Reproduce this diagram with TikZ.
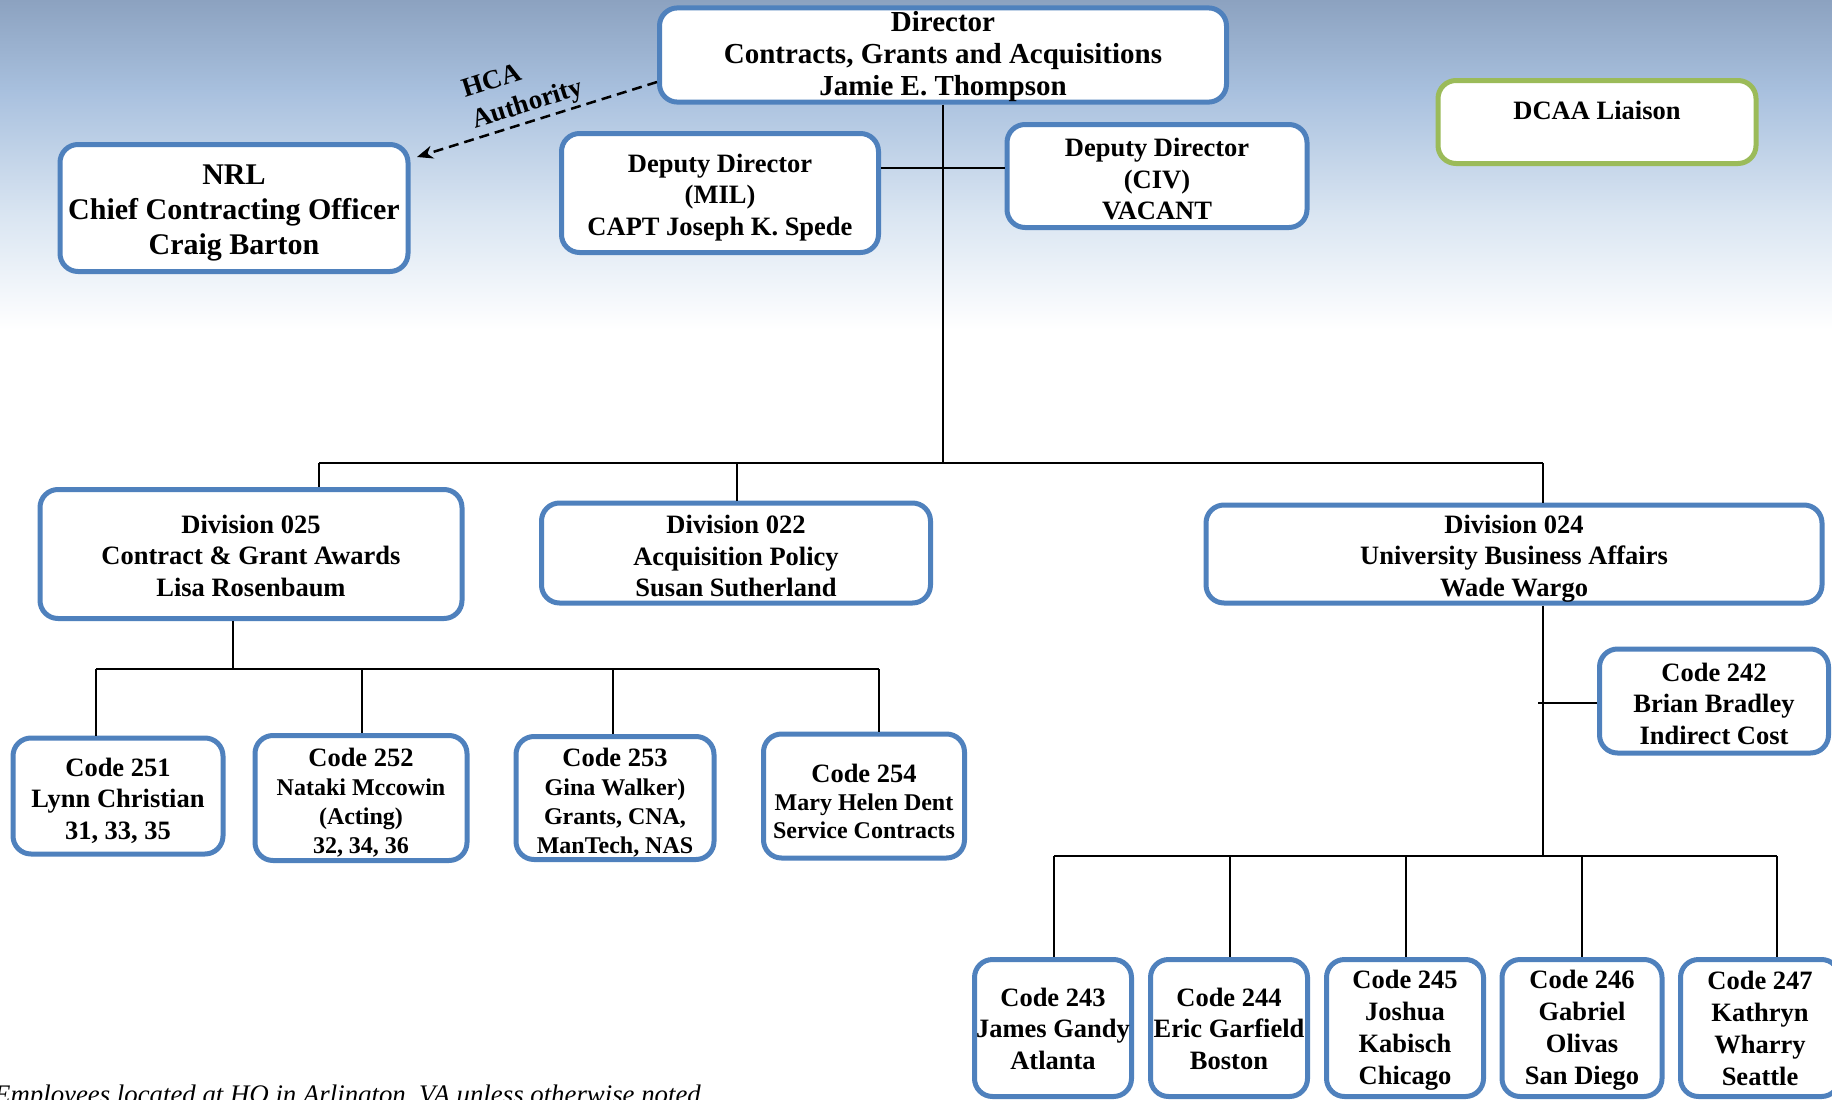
\documentclass[tikz,border=0pt]{standalone}
\usepackage{fontspec}
\setmainfont{Liberation Serif}
\usetikzlibrary{arrows.meta}
\definecolor{boxblue}{RGB}{79,129,189}
\definecolor{boxgreen}{RGB}{155,187,89}
\definecolor{skya}{RGB}{140,162,192}
\definecolor{skyb}{RGB}{168,192,222}
\definecolor{skyc}{RGB}{216,228,241}
\newcommand\mytop[1]{\rule{0pt}{#1pt}}
\tikzset{
  box/.style={draw=boxblue, line width=5pt, rounded corners=18pt, fill=white,
    align=center, inner sep=0pt},
  greenbox/.style={draw=boxgreen, line width=5pt, rounded corners=18pt, fill=white, inner sep=0pt},
  fbig/.style={font=\bfseries\fontsize{29}{32}\selectfont},
  fnrl/.style={font=\bfseries\fontsize{30}{35}\selectfont},
  fmid/.style={font=\bfseries\fontsize{26.5}{31.5}\selectfont},
  fsmall/.style={font=\bfseries\fontsize{24}{29}\selectfont},
  conn/.style={draw=black, line width=2pt},
}
\begin{document}
\begin{tikzpicture}[x=1pt,y=-1pt]
\useasboundingbox (0,0) rectangle (1832,1100);
% background sky
\fill[white] (0,0) rectangle (1832,1100);
\shade[top color=skya, bottom color=skyb] (0,0) rectangle (1832,91);
\shade[top color=skyb, bottom color=skyc] (0,90) rectangle (1832,211);
\shade[top color=skyc, bottom color=white] (0,210) rectangle (1832,330);

% top level
\node[box, fbig, minimum width=567pt, minimum height=86pt] (dir) at (943,55)
  {\mytop{24}Director\\Contracts, Grants and Acquisitions\\Jamie E. Thompson};
\node[box, fnrl, minimum width=348pt, minimum height=127pt] (nrl) at (234,208)
  {\mytop{29}NRL\\Chief Contracting Officer\\Craig Barton};
\node[box, fmid, minimum width=317pt, minimum height=119pt] (mil) at (720,193)
  {\mytop{27}Deputy Director\\(MIL)\\CAPT Joseph K. Spede};
\node[box, fmid, minimum width=300pt, minimum height=103pt] (civ) at (1157,176)
  {\mytop{24.5}Deputy Director\\(CIV)\\VACANT};
\node[greenbox, minimum width=318pt, minimum height=83pt] (dcaa) at (1597,122) {};
\node[fmid, inner sep=0pt] (dcaat) at (1597,110) {DCAA Liaison};

% divisions
\node[box, fmid, minimum width=422pt, minimum height=129pt] (d025) at (251,554)
  {\mytop{22}Division 025\\Contract \& Grant Awards\\Lisa Rosenbaum};
\node[box, fmid, minimum width=389pt, minimum height=100pt] (d022) at (736,553)
  {\mytop{24.5}Division 022\\Acquisition Policy\\Susan Sutherland};
\node[box, fmid, minimum width=616pt, minimum height=98pt] (d024) at (1514,554)
  {\mytop{27}Division 024\\University Business Affairs\\Wade Wargo};
\node[box, fmid, minimum width=229pt, minimum height=104pt] (c242) at (1714,701)
  {\mytop{23.5}Code 242\\Brian Bradley\\Indirect Cost};

% codes under 025
\node[box, fmid, minimum width=210pt, minimum height=116pt] (c251) at (118,796)
  {\mytop{28}Code 251\\Lynn Christian\\31, 33, 35};
\node[box, fsmall, minimum width=212pt, minimum height=125pt] (c252) at (361,798)
  {{\fontsize{26.5}{29}\selectfont\mytop{27}Code 252}\\Nataki Mccowin\\(Acting)\\32, 34, 36};
\node[box, fsmall, minimum width=198pt, minimum height=123pt] (c253) at (615,798)
  {{\fontsize{26.5}{29}\selectfont\mytop{27}Code 253}\\Gina Walker)\\Grants, CNA,\\ManTech, NAS};
\node[box, font=\bfseries\fontsize{24}{28}\selectfont, minimum width=201pt, minimum height=124pt] (c254) at (864,796)
  {{\fontsize{26.5}{28}\selectfont\mytop{30}Code 254}\\Mary Helen Dent\\Service Contracts};

% codes under 024
\node[box, fmid, minimum width=157pt, minimum height=137pt] (c243) at (1053,1028)
  {\mytop{20}Code 243\\James Gandy\\Atlanta};
\node[box, fmid, minimum width=157pt, minimum height=137pt] (c244) at (1229,1028)
  {\mytop{20}Code 244\\Eric Garfield\\Boston};
\node[box, font=\bfseries\fontsize{26.5}{32}\selectfont, minimum width=157pt, minimum height=137pt] (c245) at (1405,1028)
  {\mytop{23.5}Code 245\\Joshua\\Kabisch\\Chicago};
\node[box, font=\bfseries\fontsize{26.5}{32}\selectfont, minimum width=160pt, minimum height=137pt] (c246) at (1582,1028)
  {\mytop{23.5}Code 246\\Gabriel\\Olivas\\San Diego};
\node[box, font=\bfseries\fontsize{26.5}{32}\selectfont, minimum width=159pt, minimum height=137pt] (c247) at (1760,1028)
  {\mytop{19}Code 247\\Kathryn\\Wharry\\Seattle};

% coordinates
\coordinate (depy) at (0,168);
\coordinate (hcas) at (0,82);
\coordinate (hcae) at (417,157);
\coordinate (busL) at (319,463);
\coordinate (bus22) at (737,463);
\coordinate (busR) at (1543,463);
\coordinate (b25) at (233,669);
\coordinate (b25a) at (96,669);
\coordinate (b25b) at (362,669);
\coordinate (b25c) at (613,669);
\coordinate (b25d) at (879,669);
\coordinate (b24) at (1543,856);
\coordinate (b242) at (1538,703);
\coordinate (b24a) at (1054,856);
\coordinate (b24b) at (1230,856);
\coordinate (b24c) at (1406,856);
\coordinate (b24d) at (1582,856);
\coordinate (b24e) at (1777,856);

% connectors
\draw[line width=1.3pt] (dir.south) -- (dir.south |- busL);
\draw[conn] (mil.east |- depy) -- (civ.west |- depy);
\draw[line width=2.5pt, dash pattern=on 10pt off 6pt, -{Stealth[length=16pt,width=13pt]}]
  (dir.west |- hcas) -- (hcae);
\node[font=\bfseries\fontsize{27}{32.5}\selectfont, align=left, rotate=17.5, inner sep=0pt]
  (hca) at (523,90) {HCA\\Authority};

\draw[conn] (busL) -- (busR);
\draw[conn] (busL) -- (busL |- d025.north);
\draw[conn] (bus22) -- (bus22 |- d022.north);
\draw[conn] (busR) -- (busR |- d024.north);

\draw[conn] (b25 |- d025.south) -- (b25);
\draw[conn] (b25a) -- (b25d);
\draw[conn] (b25a) -- (b25a |- c251.north);
\draw[conn] (b25b) -- (b25b |- c252.north);
\draw[conn] (b25c) -- (b25c |- c253.north);
\draw[conn] (b25d) -- (b25d |- c254.north);

\draw[conn] (busR |- d024.south) -- (b24);
\draw[conn] (b242) -- (c242.west |- b242);
\draw[conn] (b24a) -- (b24e);
\draw[conn] (b24a) -- (b24a |- c243.north);
\draw[conn] (b24b) -- (b24b |- c244.north);
\draw[conn] (b24c) -- (b24c |- c245.north);
\draw[conn] (b24d) -- (b24d |- c246.north);
\draw[conn] (b24e) -- (b24e |- c247.north);

% footnote
\node[font=\itshape\fontsize{26.8}{30}\selectfont, anchor=base west, inner sep=0pt]
  (note) at (-6,1103) {Employees located at HQ in Arlington, VA unless otherwise noted};
\end{tikzpicture}
\end{document}
